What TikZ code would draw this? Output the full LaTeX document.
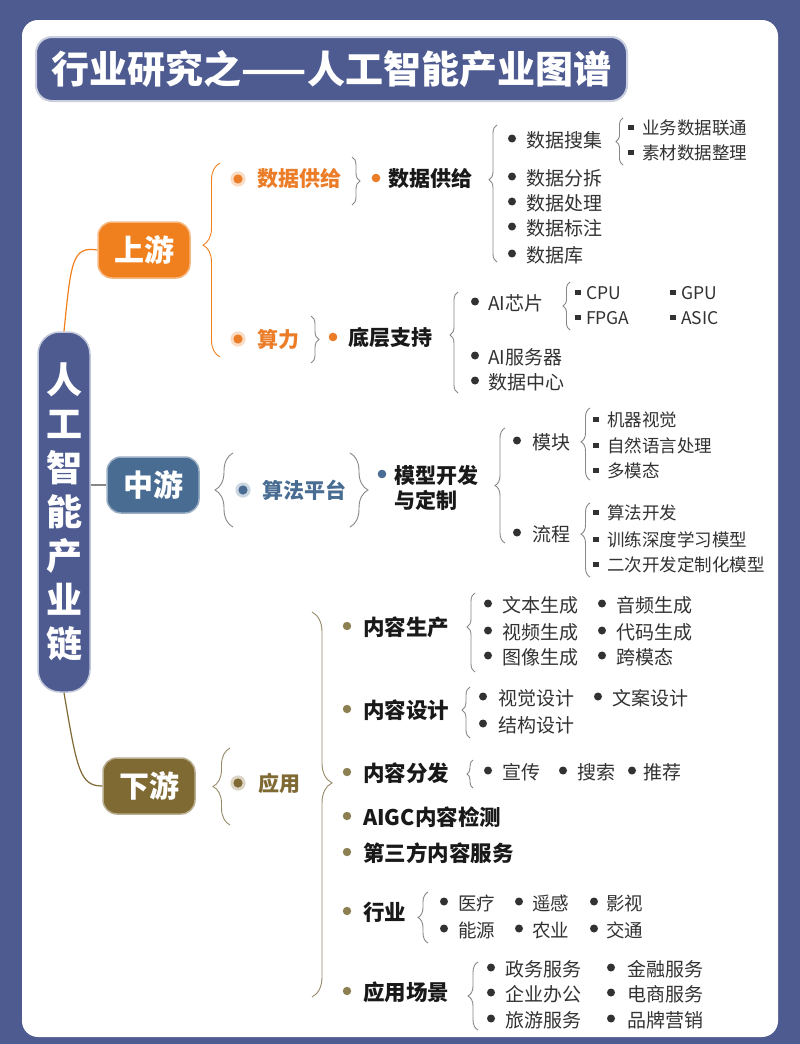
\documentclass[tikz,border=0pt]{standalone}
\usepackage{fontspec}
\setmainfont{Noto Sans CJK SC}
\usetikzlibrary{decorations.pathreplacing}
\definecolor{bgblue}{RGB}{78,91,145}
\definecolor{upor}{RGB}{240,128,30}
\definecolor{ortext}{RGB}{236,125,40}
\definecolor{midbl}{RGB}{72,108,146}
\definecolor{downol}{RGB}{128,106,52}
\definecolor{olivedot}{RGB}{140,128,82}
\definecolor{olbrace}{RGB}{150,138,105}
\definecolor{bracegray}{RGB}{135,135,135}
\definecolor{leafc}{RGB}{50,50,50}
\definecolor{boldc}{RGB}{25,25,25}
\tikzset{
  titlebox/.style={fill=bgblue, draw=bgblue!30!white, line width=2, rounded corners=16,
    minimum width=591, minimum height=64, text=white, inner sep=0,
    font=\fontsize{38}{40}\selectfont\bfseries},
  chainbox/.style={fill=bgblue, draw=bgblue!35!white, line width=1.5, rounded corners=22,
    minimum width=52, minimum height=360, text=white, inner sep=0, align=center,
    font=\fontsize{36}{44}\selectfont\bfseries},
  stagebox/.style={fill=#1, draw=#1!55!white, line width=1.5, rounded corners=14,
    minimum width=92, minimum height=56, text=white, inner sep=0,
    font=\fontsize{30}{32}\selectfont\bfseries},
  cattext/.style={inner sep=0, text=#1, font=\fontsize{21}{25}\selectfont\bfseries},
  boldtext/.style={inner sep=0, text=boldc, align=left, font=\fontsize{21}{25}\selectfont\bfseries},
  appitem/.style={inner sep=0, text=boldc, font=\fontsize{21.5}{25}\selectfont\bfseries},
  leafm/.style={inner sep=0, text=leafc, font=\fontsize{19}{22}\selectfont},
  leafi/.style={inner sep=0, text=leafc, font=\fontsize{18.5}{22}\selectfont},
  leafs/.style={inner sep=0, text=leafc, font=\fontsize{17.5}{21}\selectfont},
  brc/.style={draw=#1, line width=0.9, decorate},
  brc/.default=bracegray
}
\newcommand\dotleaf[6]{%
  \fill[leafc] (#3,#5-1.5) circle (4);
  \node[#1, anchor=west] (#2) at (#4,#5) {#6};}
\newcommand\sqleaf[5]{%
  \fill[leafc] (#2-2.7,#4-3.5) rectangle (#2+2.7,#4+1.9);
  \node[leafs, anchor=west] (#1) at (#3,#4) {#5};}
\newcommand\ringmark[3]{%
  \fill[#1!28!white] (#2,#3) circle (7.6);
  \fill[#1] (#2,#3) circle (4.6);}
\begin{document}
\begin{tikzpicture}[x=1pt,y=-1pt]
\useasboundingbox (0,0) rectangle (800,1044);
\fill[bgblue] (0,0) rectangle (800,1044);
\fill[white, rounded corners=16] (22,20) rectangle (778,1037);

% title
\node[titlebox] (title) at (331.5,69) {行业研究之——人工智能产业图谱};

% main chain node
\node[chainbox] (chain) at (64,512) {人\\工\\智\\能\\产\\业\\链};

% stages
\node[stagebox=upor] (up) at (144,250) {上游};
\node[stagebox=midbl] (mid) at (153,485) {中游};
\node[stagebox=downol] (down) at (149,786) {下游};

\draw[upor, line width=1.2] (chain.north) .. controls (71,262) and (72,246) .. (up.west);
\draw[bracegray, line width=1.2] (chain.east |- mid.west) -- (mid.west);
\draw[downol, line width=1.2] (chain.south) .. controls (77,770) and (80,786) .. (down.west);

% ---------------- upstream ----------------
\draw[brc=upor, decoration={brace, amplitude=17, aspect=0.577}] (220,357) -- (220,163);

\ringmark{ortext}{238}{179}
\node[cattext=ortext, anchor=west] (supplyA) at (257,179) {数据供给};
\draw[brc, decoration={brace, amplitude=8}] (352,157) -- (352,205);
\fill[ortext] (376,178) circle (4.3);
\node[boldtext, anchor=west] (supplyB) at (388,179) {数据供给};

\draw[brc, decoration={brace, amplitude=8, aspect=0.6}] (497,262) -- (497,125);
\dotleaf{leafm}{collect}{512}{526}{140}{数据搜集}
\dotleaf{leafm}{split}{512}{526}{178}{数据分拆}
\dotleaf{leafm}{process}{512}{526}{203}{数据处理}
\dotleaf{leafm}{label}{512}{526}{228}{数据标注}
\dotleaf{leafm}{db}{512}{526}{255}{数据库}

\draw[brc, decoration={brace, amplitude=7}] (623,165) -- (623,118);
\sqleaf{bizdata}{631}{642}{128}{业务数据联通}
\sqleaf{material}{631}{642}{153}{素材数据整理}

\ringmark{ortext}{238}{339}
\node[cattext=ortext, anchor=west] (compute) at (257,339) {算力};
\draw[brc, decoration={brace, amplitude=8}] (311,316) -- (311,363);
\fill[ortext] (333,337) circle (4.3);
\node[boldtext, anchor=west] (base) at (348,338) {底层支持};

\draw[brc, decoration={brace, amplitude=8, aspect=0.574}] (458,393) -- (458,292);
\dotleaf{leafm}{chip}{475}{488}{303}{AI芯片}
\dotleaf{leafm}{server}{475}{488}{357}{AI服务器}
\dotleaf{leafm}{dc}{475}{488}{382}{数据中心}

\draw[brc, decoration={brace, amplitude=7}] (570,330) -- (570,282);
\sqleaf{cpu}{578}{586}{293}{CPU}
\sqleaf{gpu}{673}{681}{293}{GPU}
\sqleaf{fpga}{578}{586}{318}{FPGA}
\sqleaf{asic}{673}{681}{318}{ASIC}

% ---------------- midstream ----------------
\draw[brc, decoration={brace, amplitude=18}] (233,527) -- (233,453);
\ringmark{midbl}{243}{490}
\node[cattext=midbl, anchor=west] (algo) at (262,490) {算法平台};
\draw[brc, decoration={brace, amplitude=18}] (350,453) -- (350,527);
\fill[midbl] (382,474) circle (4.3);
\node[boldtext, anchor=north west] (model) at (394,465) {模型开发\\与定制};

\draw[brc, decoration={brace, amplitude=10}] (505,543) -- (505,428);
\dotleaf{leafm}{module}{517}{532}{442}{模块}
\dotleaf{leafm}{flow}{517}{532}{534}{流程}

\draw[brc, decoration={brace, amplitude=9, aspect=0.53}] (590,480) -- (590,408);
\sqleaf{vision}{596}{607}{420}{机器视觉}
\sqleaf{nlp}{596}{607}{446}{自然语言处理}
\sqleaf{multi}{596}{607}{471}{多模态}

\draw[brc, decoration={brace, amplitude=9, aspect=0.58}] (590,577) -- (590,503);
\sqleaf{algdev}{596}{607}{513}{算法开发}
\sqleaf{train}{596}{607}{540}{训练深度学习模型}
\sqleaf{custom}{596}{607}{565}{二次开发定制化模型}

% ---------------- downstream ----------------
\draw[brc=olbrace, decoration={brace, amplitude=17}] (230,825) -- (230,748);
\ringmark{downol}{238}{783}
\node[cattext=downol, anchor=west] (app) at (258,783) {应用};
\draw[brc=olbrace, decoration={brace, amplitude=20, aspect=0.444}] (312,612) -- (312,997);

\foreach \yy/\nm/\tx in {627/prod/内容生产, 710/design/内容设计, 773/dist/内容分发,
   817/aigc/AIGC内容检测, 853/third/第三方内容服务, 912/industry/行业, 992/scene/应用场景}{
  \fill[olivedot] (347,\yy-1) circle (4.2);
  \node[appitem, anchor=west] (\nm) at (363,\yy) {\tx};
}

\draw[brc, decoration={brace, amplitude=8, aspect=0.57}] (475,672) -- (475,593);
\dotleaf{leafm}{text}{488}{502}{605}{文本生成}
\dotleaf{leafm}{audio}{602}{616}{605}{音频生成}
\dotleaf{leafm}{video}{488}{502}{632}{视频生成}
\dotleaf{leafm}{code}{602}{616}{632}{代码生成}
\dotleaf{leafm}{image}{488}{502}{657}{图像生成}
\dotleaf{leafm}{cross}{602}{616}{657}{跨模态}

\draw[brc, decoration={brace, amplitude=8, aspect=0.55}] (470,738) -- (470,687);
\dotleaf{leafm}{visual}{483}{498}{698}{视觉设计}
\dotleaf{leafm}{copy}{598}{612}{698}{文案设计}
\dotleaf{leafm}{struct}{483}{498}{725}{结构设计}

\draw[brc, decoration={brace, amplitude=6}] (473,788) -- (473,760);
\dotleaf{leafm}{promo}{488}{502}{772}{宣传}
\dotleaf{leafm}{search}{563}{577}{772}{搜索}
\dotleaf{leafm}{recommend}{632}{643}{772}{推荐}

\draw[brc, decoration={brace, amplitude=10}] (428,943) -- (428,892);
\dotleaf{leafi}{medical}{444}{458}{903}{医疗}
\dotleaf{leafi}{remote}{519}{532}{903}{遥感}
\dotleaf{leafi}{film}{594}{606}{903}{影视}
\dotleaf{leafi}{energy}{444}{458}{930}{能源}
\dotleaf{leafi}{agri}{519}{532}{930}{农业}
\dotleaf{leafi}{traffic}{594}{606}{930}{交通}

\draw[brc, decoration={brace, amplitude=10, aspect=0.5}] (478,1030) -- (478,962);
\dotleaf{leafm}{gov}{491}{505}{969}{政务服务}
\dotleaf{leafm}{fin}{611}{627}{969}{金融服务}
\dotleaf{leafm}{office}{491}{505}{994}{企业办公}
\dotleaf{leafm}{ecom}{611}{627}{994}{电商服务}
\dotleaf{leafm}{travel}{491}{505}{1020}{旅游服务}
\dotleaf{leafm}{brand}{611}{627}{1020}{品牌营销}
\end{tikzpicture}
\end{document}
